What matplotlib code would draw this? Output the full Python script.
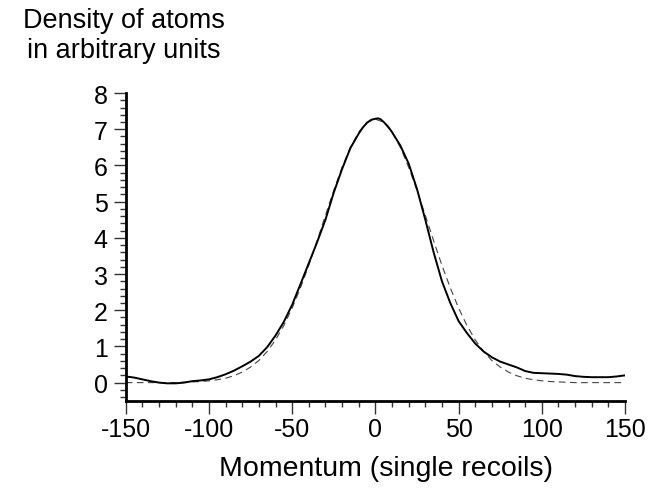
import matplotlib
matplotlib.use("Agg")
import matplotlib.pyplot as plt
from matplotlib.ticker import MultipleLocator

plt.rcParams['font.family'] = ['Liberation Sans', 'DejaVu Sans']
plt.rcParams['axes.unicode_minus'] = False

# measured profile (solid)
momentum = [-150, -145, -140, -135, -130, -125, -120, -115, -110, -105,
            -100, -95, -90, -85, -80, -75, -70, -65, -60, -55,
            -50, -45, -40, -35, -30, -25, -20, -15, -10, -7.5, -5, -2.5,
            0, 1.5, 3, 5, 7.5, 10, 15, 20, 25, 30, 35, 40, 45,
            50, 55, 60, 65, 70, 75, 80, 85, 90, 95,
            100, 105, 110, 115, 120, 125, 130, 135, 140, 145, 150]
density = [0.17, 0.14, 0.09, 0.04, 0.00, -0.02, -0.02, 0.00, 0.04, 0.06,
           0.09, 0.15, 0.23, 0.33, 0.45, 0.58, 0.74, 0.98, 1.30, 1.68,
           2.15, 2.72, 3.30, 3.88, 4.50, 5.25, 5.90, 6.48, 6.88, 7.05, 7.18, 7.26,
           7.29, 7.30, 7.28, 7.20, 7.08, 6.92, 6.55, 6.05, 5.35, 4.50, 3.60, 2.80, 2.20,
           1.70, 1.37, 1.08, 0.86, 0.70, 0.58, 0.50, 0.42, 0.32, 0.27,
           0.26, 0.25, 0.24, 0.22, 0.18, 0.16, 0.15, 0.15, 0.15, 0.17, 0.20]

# fitted profile (dashed)
fit_momentum = [-150, -140, -130, -120, -115, -110, -105, -100, -95, -90,
                -85, -80, -75, -70, -65, -60, -55, -50, -45, -40,
                -35, -30, -25, -20, -15, -10, -5, 0, 5, 10,
                15, 20, 25, 30, 35, 40, 45, 50, 55, 60,
                65, 70, 75, 80, 85, 90, 95, 100, 105, 110,
                115, 120, 130, 140, 150]
fit_density = [0.00, 0.00, 0.00, 0.00, 0.01, 0.02, 0.03, 0.05, 0.08, 0.12,
               0.19, 0.29, 0.43, 0.61, 0.86, 1.18, 1.58, 2.06, 2.62, 3.24,
               3.92, 4.62, 5.31, 5.95, 6.50, 6.92, 7.19, 7.28, 7.19, 6.92,
               6.50, 5.95, 5.31, 4.62, 3.92, 3.24, 2.62, 2.06, 1.58, 1.18,
               0.86, 0.61, 0.43, 0.29, 0.19, 0.12, 0.08, 0.05, 0.03, 0.02,
               0.01, 0.00, 0.00, 0.00, 0.00]

fig = plt.figure(figsize=(6.5, 4.89), dpi=100)
ax = fig.add_axes([0.1934, 0.1785, 0.7682, 0.6292])

ax.plot(fit_momentum, fit_density, color='#444444', lw=0.8, ls=(0, (6, 4)))
ax.plot(momentum, density, color='black', lw=1.4)

ax.set_xlim(-150, 150)
ax.set_ylim(-0.5, 8)
ax.xaxis.set_major_locator(MultipleLocator(50))
ax.xaxis.set_minor_locator(MultipleLocator(10))
ax.yaxis.set_major_locator(MultipleLocator(1))
ax.yaxis.set_minor_locator(MultipleLocator(0.2))

for s in ['top', 'right']:
    ax.spines[s].set_visible(False)
for s in ['left', 'bottom']:
    ax.spines[s].set_linewidth(2)

ax.tick_params(which='major', length=9, width=1, color='#333333', labelsize=18)
ax.tick_params(which='minor', length=4.5, width=1, color='#333333')
ax.tick_params(axis='x', which='major', pad=3)
ax.tick_params(axis='y', which='major', pad=4)

fig.text(386 / 650, 1 - 476 / 489, 'Momentum (single recoils)',
         ha='center', va='baseline', fontsize=20.5)
fig.text(124 / 650, 1 - 28 / 489, 'Density of atoms',
         ha='center', va='baseline', fontsize=19.5)
fig.text(124 / 650, 1 - 58 / 489, 'in arbitrary units',
         ha='center', va='baseline', fontsize=19.5)

fig.savefig('out.png', dpi=100)
